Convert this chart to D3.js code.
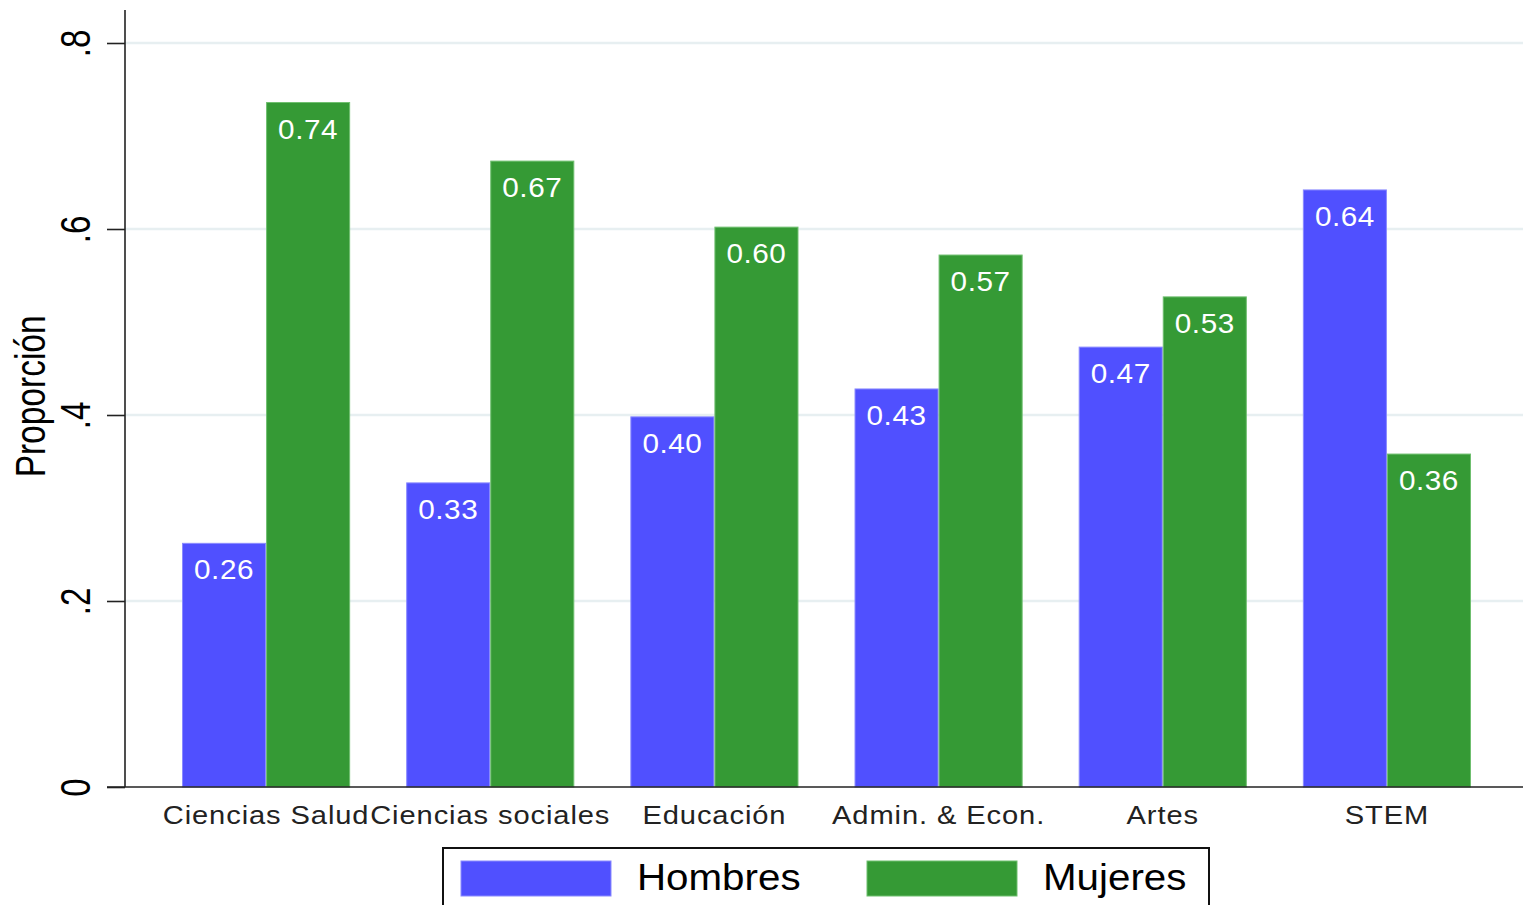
<!DOCTYPE html>
<html><head><meta charset="utf-8">
<script src="https://cdn.jsdelivr.net/npm/d3@7/dist/d3.min.js"></script>
<style>html,body{margin:0;padding:0;background:#fff;overflow:hidden}svg{display:block}text{font-family:"Liberation Sans",Arial,sans-serif}</style>
</head><body>
<script>
const categories = ["Ciencias Salud","Ciencias sociales","Educación","Admin. & Econ.","Artes","STEM"];
const seriesNames = ["Hombres","Mujeres"];
const hombres = [0.262,0.327,0.398,0.428,0.473,0.642];
const mujeres = [0.736,0.673,0.602,0.572,0.527,0.358];
const yTicks = [0,0.2,0.4,0.6,0.8];
const yTickLabels = ["0",".2",".4",".6",".8"];
const yTitle = "Proporción";
const colors = ["#5050ff","#359a35"];
const strokes = ["#8a8aff","#6fbf6f"];

const W=1523,H=905;
const svg=d3.select("body").append("svg").attr("width",W).attr("height",H);
const x0=d3.scaleBand().domain(categories).range([154,1499]).paddingInner(0.25).paddingOuter(0.125);
const x1=d3.scaleBand().domain(seriesNames).range([0,x0.bandwidth()]);
const y=d3.scaleLinear().domain([0,0.8]).range([787,43]);
const axisX=125;

// gridlines
svg.append("g").selectAll("line").data(yTicks.filter(d=>d>0)).join("line")
  .attr("x1",axisX).attr("x2",W).attr("y1",d=>y(d)).attr("y2",d=>y(d))
  .attr("stroke","#e7eff1").attr("stroke-width",2.5);

// bars
const data=categories.map((c,i)=>({cat:c,vals:[hombres[i],mujeres[i]]}));
const g=svg.append("g").selectAll("g").data(data).join("g").attr("transform",d=>`translate(${x0(d.cat)},0)`);
g.selectAll("rect").data(d=>d.vals.map((v,j)=>({v,j,s:seriesNames[j]}))).join("rect")
  .attr("x",d=>x1(d.s)+0.5).attr("width",x1.bandwidth()-1)
  .attr("y",d=>y(d.v)).attr("height",d=>y(0)-y(d.v))
  .attr("fill",d=>colors[d.j]).attr("stroke",d=>strokes[d.j]).attr("stroke-width",1);
g.selectAll("text").data(d=>d.vals.map((v,j)=>({v,j,s:seriesNames[j]}))).join("text")
  .attr("transform",d=>`translate(${x1(d.s)+x1.bandwidth()/2},${y(d.v)+36}) scale(1.1,1)`)
  .attr("text-anchor","middle").attr("fill","#fff").attr("font-size",27)
  .attr("letter-spacing",0.5).text(d=>d3.format(".2f")(d.v));

// y axis
const ya=svg.append("g").attr("transform",`translate(${axisX},0)`)
  .call(d3.axisLeft(y).tickValues(yTicks).tickSize(18).tickFormat((d,i)=>yTickLabels[i]));
ya.select(".domain").remove();
ya.selectAll(".tick line").attr("stroke","#222").attr("stroke-width",1.6);
ya.selectAll(".tick text").attr("x",null).attr("dy",null).attr("fill","#000")
  .attr("font-size",33).attr("text-anchor","middle")
  .attr("transform","translate(-35,0) scale(1.27,1) rotate(-90)");
svg.append("line").attr("x1",axisX).attr("x2",axisX).attr("y1",10).attr("y2",787)
  .attr("stroke","#222").attr("stroke-width",1.6);

// x axis
const xa=svg.append("g").attr("transform",`translate(0,787)`)
  .call(d3.axisBottom(x0).tickSize(0));
xa.select(".domain").remove();
xa.selectAll(".tick text").attr("y",null).attr("dy",null).attr("fill","#222")
  .attr("font-size",26).attr("letter-spacing",0.8)
  .attr("transform","translate(0,37) scale(1.12,1)");
svg.append("line").attr("x1",107).attr("x2",W).attr("y1",787).attr("y2",787)
  .attr("stroke","#222").attr("stroke-width",1.6);

// y title
svg.append("text").attr("transform",`translate(45,${y(0.42)}) scale(1.25,1) rotate(-90)`)
  .attr("text-anchor","middle").attr("font-size",33.5).attr("fill","#000").text(yTitle);

// legend
const lg=svg.append("g");
lg.append("rect").attr("x",443).attr("y",848).attr("width",766).attr("height",80)
  .attr("fill","#fff").attr("stroke","#111").attr("stroke-width",2);
const items=lg.selectAll("g").data(seriesNames).join("g").attr("transform",(d,i)=>`translate(${461+i*406},0)`);
items.append("rect").attr("x",0).attr("y",861).attr("width",150).attr("height",35)
  .attr("fill",(d,i)=>colors[i]).attr("stroke",(d,i)=>strokes[i]);
items.append("text").attr("transform","translate(176,890) scale(1.09,1)")
  .attr("font-size",37).attr("fill","#000").text(d=>d);
</script>
</body></html>
